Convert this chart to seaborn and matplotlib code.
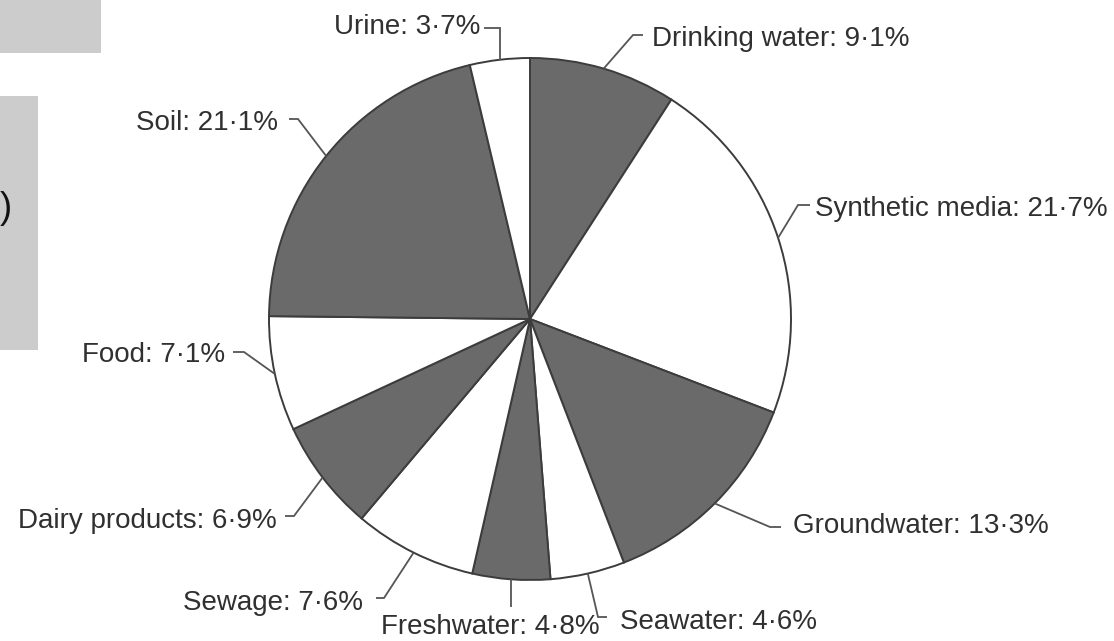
import numpy as np
import matplotlib
matplotlib.use("Agg")
import matplotlib.pyplot as plt
from matplotlib.patches import Rectangle
import seaborn as sns

# ---- data ----
categories = ["Drinking water", "Synthetic media", "Groundwater", "Seawater",
              "Freshwater", "Sewage", "Dairy products", "Food", "Soil", "Urine"]
values = [9.1, 21.7, 13.3, 4.6, 4.8, 7.6, 6.9, 7.1, 21.1, 3.7]
label_texts = [f"{c}: {v:.1f}%".replace(".", "\u00b7") for c, v in zip(categories, values)]

# ---- style ----
sns.set_theme(style="white")
plt.rcParams["font.family"] = ["Liberation Sans", "DejaVu Sans"]

DARK = "#6a6a6a"
EDGE = "#3c3c3c"
TEXT = "#303030"
LEAD = "#555555"

W, H = 1114, 641
fig = plt.figure(figsize=(W / 100, H / 100), dpi=100)
ax = fig.add_axes([0, 0, 1, 1])

CX, CY, R = 530, 319, 261
colors = [DARK if i % 2 == 0 else "white" for i in range(len(values))]
ax.pie(values, colors=colors, startangle=-90, counterclock=True,
       center=(CX, CY), radius=R,
       wedgeprops=dict(edgecolor=EDGE, linewidth=1.4))

ax.set_xlim(0, W)
ax.set_ylim(H, 0)
ax.set_aspect("auto")
ax.axis("off")

# edge anchor points computed from data (mid angle of each wedge)
vals = np.array(values)
frac = vals / vals.sum()
mid = np.cumsum(frac) - frac / 2
theta = np.deg2rad(-90 + 360 * mid)
ex = CX + R * np.cos(theta)
ey = CY + R * np.sin(theta)

# label layout: (text x, text cap-centre y, ha, elbow x, elbow y, tick end x)
layout = {
    "Drinking water":  (652, 36, "left", 633, 35, 643),
    "Synthetic media": (815, 206, "left", 798, 205, 810),
    "Groundwater":     (793, 523, "left", 770, 527, 781),
    "Seawater":        (620, 619, "left", 598, 617, 607),
    "Freshwater":      (490, 624, "center", None, 607, None),
    "Sewage":          (363, 600, "right", 384, 598, 376),
    "Dairy products":  (277, 518, "right", 294, 516, 285),
    "Food":            (225, 352, "right", 244, 352, 233),
    "Soil":            (278, 120, "right", 298, 119, 289),
    "Urine":           (480, 24, "right", "edge", 28, 484),
}

for i, cat in enumerate(categories):
    tx, ty, ha, bx, by, tickx = layout[cat]
    ax.text(tx, ty + 10, label_texts[i], ha=ha, va="baseline",
            fontsize=20, color=TEXT)
    if bx is None:
        ax.plot([ex[i], ex[i]], [ey[i], by], color=LEAD, lw=1.3,
                solid_capstyle="butt")
        continue
    if bx == "edge":
        bx = ex[i]
    ax.plot([ex[i], bx, tickx], [ey[i], by, by], color=LEAD, lw=1.3,
            solid_joinstyle="miter", solid_capstyle="butt")

# cropped grey panels at the left edge of the source image
ax.add_patch(Rectangle((0, 0), 101, 53, facecolor="#cccccc", edgecolor="none"))
ax.add_patch(Rectangle((0, 96), 38, 254, facecolor="#cccccc", edgecolor="none"))
ax.text(12, 218, ")", ha="right", va="baseline", fontsize=26, color="#111111")

fig.savefig("out.png", dpi=100, facecolor="white")
